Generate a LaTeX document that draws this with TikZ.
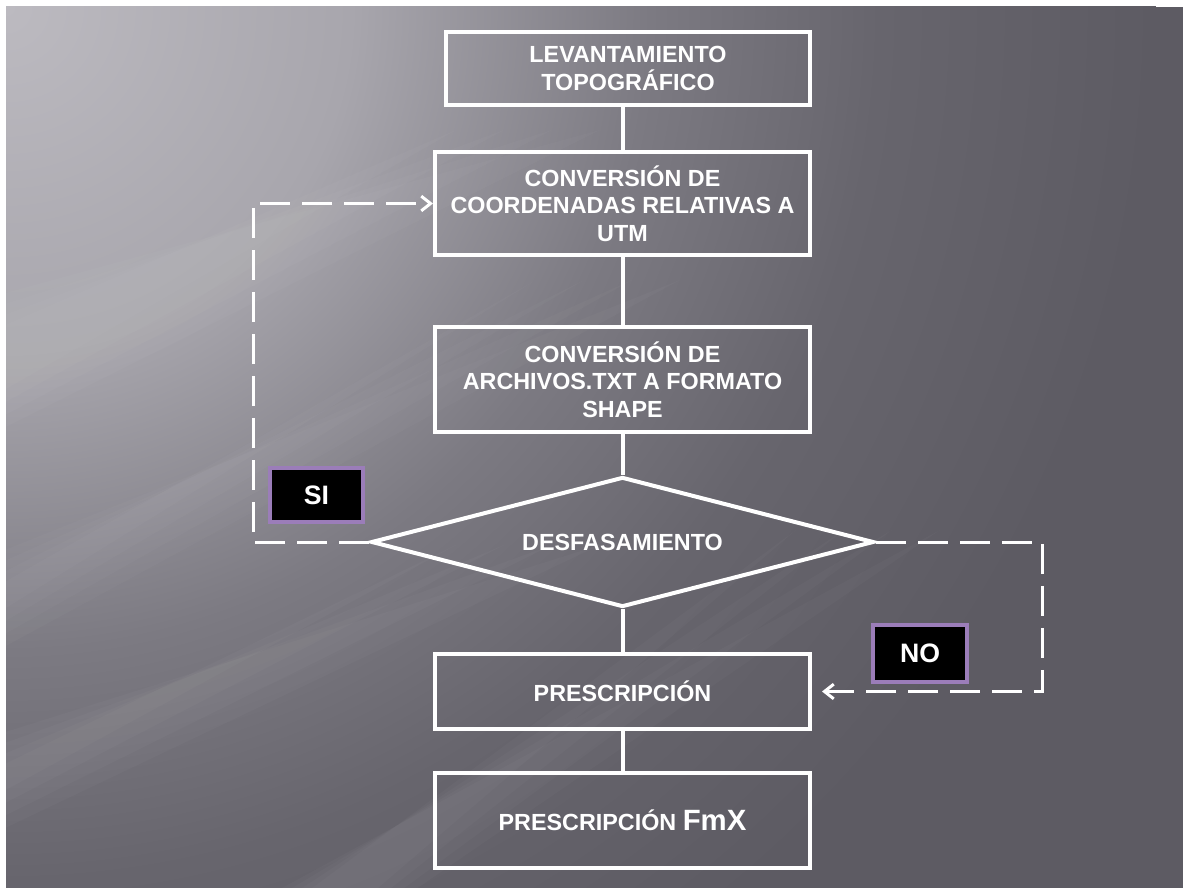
\documentclass[tikz,border=0pt]{standalone}
\usepackage{fontspec}
\setmainfont{Liberation Sans}
\usetikzlibrary{shapes.geometric,arrows.meta}
\definecolor{bgc0}{RGB}{188,186,192}
\definecolor{bgc1}{RGB}{168,166,173}
\definecolor{bgc2}{RGB}{124,122,130}
\definecolor{bgc3}{RGB}{103,101,109}
\definecolor{bgc4}{RGB}{93,91,99}
\definecolor{lpurple}{RGB}{155,125,185}
\pgfdeclareradialshading{bgrad}{\pgfpoint{0bp}{0bp}}{color(0bp)=(bgc0); color(7.5bp)=(bgc1); color(14bp)=(bgc2); color(19bp)=(bgc3); color(25bp)=(bgc4); color(50bp)=(bgc4)}
\begin{document}
\begin{tikzpicture}[x=0.75pt,y=-0.75pt,
  box/.style={draw=white, line width=3pt, minimum width=281.25pt, inner sep=0pt,
    align=center, text=white, font=\bfseries\fontsize{17.5}{20.5}\selectfont},
  dec/.style={shape=diamond, aspect=3.87, draw=white, line width=3pt, inner sep=0pt,
    minimum width=377pt, minimum height=97.5pt, text=white,
    font=\bfseries\fontsize{17.5}{20.5}\selectfont},
  conn/.style={draw=white, line width=3pt},
  loop/.style={draw=white, line width=2.25pt, dash pattern=on 22.5pt off 9pt,
    -{Straight Barb[length=7pt,width=11pt,line width=2.25pt]}},
  lab/.style={fill=black, draw=lpurple, line width=2.5pt, text=white, inner sep=0pt,
    font=\bfseries\fontsize{20}{24}\selectfont},
  streak/.style={fill=white, opacity=0.022}]
\useasboundingbox (0,0) rectangle (1183,888);
\fill[white] (0,0) rectangle (1183,888);
\begin{scope}
  \clip (6,7) rectangle (1183,888);
  \fill[bgc4] (6,7) rectangle (1183,888);
  \shade[shading=bgrad] (6,7) circle (1150);
  \foreach \w in {0,12,24,36} {
    \fill[streak] (-20,{300+\w}) -- ({600-4*\w},{130}) -- (-20,{440-\w}) -- cycle;
    \fill[streak] (-20,{560+\w}) -- ({680-4*\w},{280}) -- (-20,{660-\w}) -- cycle;
    \fill[streak] (-20,{740+\w}) -- ({600-4*\w},{545}) -- (-20,{840-\w}) -- cycle;
    \fill[streak] ({260+\w},900) -- ({940-4*\w},{530}) -- ({400-\w},900) -- cycle;
  }
\end{scope}

\node[box, minimum width=273pt, minimum height=54.75pt] (b1) at (628,68.5)
  {LEVANTAMIENTO\\TOPOGRÁFICO};
\node[box, minimum height=77.25pt] (b2) at (622.5,203.5)
  {CONVERSIÓN DE\\COORDENADAS RELATIVAS A\\UTM};
\node[box, minimum height=78.75pt] (b3) at (622.5,379.5)
  {CONVERSIÓN DE\\ARCHIVOS.TXT A FORMATO\\SHAPE};
\node[dec] (dia) at (622.5,542) {DESFASAMIENTO};
\node[box, minimum height=56.25pt] (b4) at (622.5,691.5) {PRESCRIPCIÓN};
\node[box, minimum height=71.25pt] (b5) at (622.5,820.5)
  {PRESCRIPCIÓN {\fontsize{22}{24}\selectfont FmX}};

\draw[conn] (b1.south -| b2.north) -- (b2.north);
\draw[conn] (b2) -- (b3);
\draw[conn] (b3) -- (dia);
\draw[conn] (dia) -- (b4);
\draw[conn] (b4) -- (b5);

\coordinate (siturn) at (253,0);
\coordinate (noturn) at (1042,0);
\draw[loop] (dia.west) -| (siturn |- b2.west) -- (b2.west);
\draw[loop, shorten >=7.5pt] (dia.east) -| (noturn |- b4.east) -- (b4.east);

\node[lab, minimum width=69.75pt, minimum height=40.5pt] (si) at (316.5,495) {SI};
\node[lab, minimum width=70.5pt, minimum height=42.75pt] (no) at (920,653.5) {NO};
\end{tikzpicture}
\end{document}
